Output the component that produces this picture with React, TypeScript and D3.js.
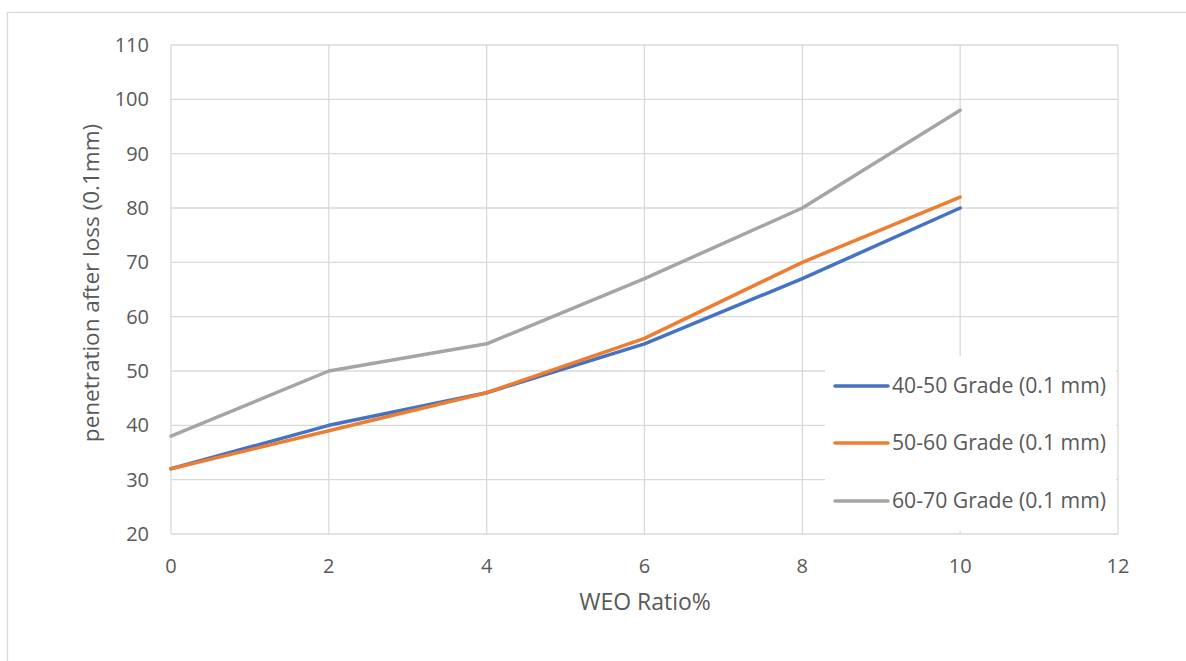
import React from "react";
import * as d3 from "d3";

// WEO ratio (%) on the x axis
const weoRatio = [0, 2, 4, 6, 8, 10];

// Penetration after loss (0.1 mm) for each bitumen grade
const grade4050 = [32, 40, 46, 55, 67, 80];
const grade5060 = [32, 39, 46, 56, 70, 82];
const grade6070 = [38, 50, 55, 67, 80, 98];

const seriesNames = [
  "40-50 Grade (0.1 mm)",
  "50-60 Grade (0.1 mm)",
  "60-70 Grade (0.1 mm)",
];
const seriesColors = ["#4472C4", "#ED7D31", "#A5A5A5"];

const xTicks = [0, 2, 4, 6, 8, 10, 12];
const yTicks = [20, 30, 40, 50, 60, 70, 80, 90, 100, 110];

const W = 1186;
const H = 661;
const plot = { left: 171, right: 1118, top: 45, bottom: 534 };
const FONT = "'Open Sans', 'Segoe UI', sans-serif";
const TEXT = "#595959";
const GRID = "#D9D9D9";

export default function App() {
  const x = d3.scaleLinear().domain([0, 12]).range([plot.left, plot.right]);
  const y = d3.scaleLinear().domain([20, 110]).range([plot.bottom, plot.top]);

  const line = d3
    .line<number>()
    .x((_, i) => x(weoRatio[i]))
    .y((d) => y(d));

  const series = [grade4050, grade5060, grade6070];

  const legend = { x: 825, y: 356, w: 291, h: 175 };
  const legendRowY = [386, 443, 501];

  return (
    <svg
      width={W}
      height={H}
      style={{ position: "absolute", left: 0, top: 0, background: "#fff" }}
      fontFamily={FONT}
    >
      <rect x={0} y={0} width={W} height={H} fill="#fff" />
      {/* chart frame */}
      <rect
        x={7.5}
        y={12.5}
        width={W + 10}
        height={H + 10}
        fill="none"
        stroke={GRID}
        strokeWidth={1.3}
      />

      {/* gridlines */}
      {yTicks.map((t) => (
        <line
          key={"gy" + t}
          x1={plot.left}
          x2={plot.right}
          y1={y(t)}
          y2={y(t)}
          stroke={GRID}
          strokeWidth={1.3}
        />
      ))}
      {xTicks.map((t) => (
        <line
          key={"gx" + t}
          x1={x(t)}
          x2={x(t)}
          y1={plot.top}
          y2={plot.bottom}
          stroke={GRID}
          strokeWidth={1.3}
        />
      ))}

      {/* tick labels */}
      {yTicks.map((t) => (
        <text
          key={"ty" + t}
          x={149}
          y={y(t)}
          dy="0.35em"
          textAnchor="end"
          fontSize={20}
          fill={TEXT}
        >
          {t}
        </text>
      ))}
      {xTicks.map((t) => (
        <text
          key={"tx" + t}
          x={x(t)}
          y={566}
          dy="0.35em"
          textAnchor="middle"
          fontSize={20}
          fill={TEXT}
        >
          {t}
        </text>
      ))}

      {/* axis titles */}
      <text
        x={645}
        y={602}
        dy="0.35em"
        textAnchor="middle"
        fontSize={23}
        fill={TEXT}
      >
        WEO Ratio%
      </text>
      <text
        transform={`translate(91,283) rotate(-90)`}
        dy="0.35em"
        textAnchor="middle"
        fontSize={22.5}
        fill={TEXT}
      >
        penetration after loss (0.1mm)
      </text>

      {/* series lines */}
      {series.map((s, i) => (
        <path
          key={"s" + i}
          d={line(s) || ""}
          fill="none"
          stroke={seriesColors[i]}
          strokeWidth={3.5}
          strokeLinejoin="round"
          strokeLinecap="round"
        />
      ))}

      {/* legend */}
      <rect
        x={legend.x}
        y={legend.y}
        width={legend.w}
        height={legend.h}
        fill="#fff"
      />
      {seriesNames.map((name, i) => (
        <g key={"lg" + i}>
          <line
            x1={835}
            x2={888}
            y1={legendRowY[i]}
            y2={legendRowY[i]}
            stroke={seriesColors[i]}
            strokeWidth={3.5}
            strokeLinecap="round"
          />
          <text
            x={892}
            y={legendRowY[i]}
            dy="0.35em"
            fontSize={21.2}
            fill={TEXT}
          >
            {name}
          </text>
        </g>
      ))}
    </svg>
  );
}
